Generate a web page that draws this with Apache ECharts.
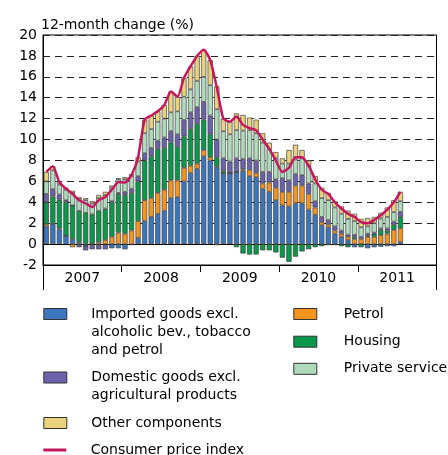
<!DOCTYPE html>
<html><head><meta charset="utf-8">
<script src="https://cdn.jsdelivr.net/npm/echarts@6/dist/echarts.min.js"></script>
<style>html,body{margin:0;padding:0;background:#fff}#c{width:448px;height:455px}</style>
</head><body><div id="c"></div>
<script>
const months = [
 '2007-01','2007-02','2007-03','2007-04','2007-05','2007-06','2007-07','2007-08','2007-09','2007-10','2007-11','2007-12',
 '2008-01','2008-02','2008-03','2008-04','2008-05','2008-06','2008-07','2008-08','2008-09','2008-10','2008-11','2008-12',
 '2009-01','2009-02','2009-03','2009-04','2009-05','2009-06','2009-07','2009-08','2009-09','2009-10','2009-11','2009-12',
 '2010-01','2010-02','2010-03','2010-04','2010-05','2010-06','2010-07','2010-08','2010-09','2010-10','2010-11','2010-12',
 '2011-01','2011-02','2011-03','2011-04','2011-05','2011-06','2011-07','2011-08','2011-09','2011-10','2011-11','2011-12'];
const yearLabels = ['2007','2008','2009','2010','2011'];

const imported = [1.7,1.9,1.4,0.8,0.5,0.2,-0.2,-0.1,-0.1,-0.1,-0.4,-0.4,
 -0.5,-0.1,0.6,2.2,2.6,2.9,3.2,4.4,4.5,6.0,6.8,7.2,
 8.4,8.0,7.4,6.8,6.8,6.9,7.0,6.5,6.4,5.3,5.0,4.2,
 3.7,3.6,3.9,3.9,3.3,2.8,1.8,1.6,1.0,0.7,0.4,-0.3,
 0.0,-0.4,-0.3,-0.25,-0.2,-0.2,0.2];
const petrol = [0.2,0.05,0.1,0.0,-0.3,-0.1,0.0,0.05,0.2,0.4,0.7,1.1,
 1.0,1.3,1.6,2.0,1.8,2.0,2.0,1.7,1.6,1.3,0.7,0.5,
 0.6,0.3,-0.1,0.0,0.0,0.0,0.15,0.6,0.4,0.5,0.9,1.2,
 1.3,1.4,1.7,1.7,1.5,0.7,0.3,0.3,0.3,0.3,0.3,0.5,
 0.5,0.7,0.7,0.85,1.0,1.35,1.3];
const housing = [2.1,2.6,2.75,3.2,3.2,3.0,3.0,2.8,3.0,3.0,3.3,3.7,
 3.7,3.6,3.8,3.8,4.0,4.2,4.0,3.6,3.2,3.0,3.5,3.8,
 2.9,2.2,0.9,0.2,0.0,-0.3,-0.9,-1.0,-1.0,-0.6,-0.6,-0.8,
 -1.3,-1.7,-1.2,-0.7,-0.5,-0.3,-0.2,-0.1,-0.1,-0.2,-0.3,0.2,
 -0.3,0.1,0.3,0.5,0.3,0.5,1.1];
const domestic = [0.8,0.7,0.5,0.2,0.0,-0.2,-0.4,-0.4,-0.4,-0.4,0.1,0.1,
 0.3,0.4,0.5,0.7,0.8,0.8,1.0,1.1,1.2,1.6,1.6,1.6,
 1.7,1.8,1.7,1.2,1.1,1.3,1.0,1.1,1.2,1.1,1.0,0.8,
 1.3,1.1,1.1,1.0,1.0,0.6,0.5,0.4,0.4,0.3,0.2,0.2,
 0.2,0.2,0.1,0.15,0.2,0.3,0.5];
const privateServices = [1.2,1.8,0.95,1.0,1.2,1.1,1.2,1.05,1.2,1.3,1.3,1.3,
 1.2,1.2,1.4,1.9,1.8,1.8,1.8,1.8,2.2,2.2,2.2,2.5,
 2.4,2.9,2.9,2.6,2.6,2.7,2.7,2.7,2.6,2.8,2.2,2.0,
 1.4,1.6,1.4,1.6,1.7,1.7,1.8,1.9,1.8,1.6,1.5,1.3,
 0.9,0.7,0.9,0.95,1.1,0.9,1.0];
const other = [0.9,0.4,0.2,0.2,0.2,0.2,0.2,0.2,0.3,0.3,0.2,0.1,
 0.2,0.2,0.4,1.3,1.3,1.0,1.3,2.0,1.4,1.8,2.2,2.4,
 2.6,2.4,2.2,1.2,1.2,1.6,1.5,1.2,1.3,0.9,0.6,0.6,
 0.5,1.3,1.4,0.8,0.5,0.7,1.0,0.7,0.6,0.7,0.8,0.7,
 0.8,0.8,0.6,0.55,0.9,1.15,0.9];
const cpi = [6.9,7.45,5.9,5.3,4.8,4.2,3.9,3.55,4.2,4.5,5.2,5.95,
 5.9,6.6,8.3,11.9,12.3,12.7,13.3,14.6,14.1,15.9,17.0,18.0,
 18.6,17.6,15.0,12.0,11.7,12.2,11.4,11.1,10.9,10.0,9.1,8.0,
 6.9,7.3,8.3,8.3,7.5,6.2,5.2,4.8,4.0,3.4,2.9,2.6,
 2.1,2.0,2.3,2.75,3.3,4.0,5.0];

const names = {
  imp: 'Imported goods excl. alcoholic bev., tobacco and petrol',
  dom: 'Domestic goods excl. agricultural products',
  oth: 'Other components',
  cpi: 'Consumer price index',
  pet: 'Petrol',
  hou: 'Housing',
  prv: 'Private services'
};
const legendLines = {
  imp: ['Imported goods excl.', 'alcoholic bev., tobacco', 'and petrol'],
  dom: ['Domestic goods excl.', 'agricultural products'],
  oth: ['Other components'],
  cpi: ['Consumer price index'],
  pet: ['Petrol'],
  hou: ['Housing'],
  prv: ['Private services']
};
const colors = {
  imp: '#3a75bd', pet: '#f5951f', hou: '#07984b', dom: '#6a62aa', prv: '#afdbbd', oth: '#e9d27e', cpi: '#c6175e'
};

const FONT = 'DejaVu Sans';
const L = 18.3;

function bar(key, data) {
  return {
    type: 'bar', name: names[key], stack: 'total', data: data,
    barWidth: '80%',
    itemStyle: { color: colors[key], borderColor: '#444', borderWidth: 0.7 },
    emphasis: { disabled: true }
  };
}
// icon aligned with the first text line: blank lines are prepended so that the
// first real line sits in the vertical middle of the (middle-aligned) block
function leg(key, left, iconCenter, padLeft, isLine) {
  const lines = legendLines[key];
  const n = lines.length;
  const text = '\n'.repeat(n - 1) + lines.join('\n');
  const H = (2 * n - 1) * L;
  return {
    show: true, data: [names[key]], left: left, top: iconCenter - H / 2, padding: 0,
    orient: 'vertical', selectedMode: false,
    itemWidth: 23, itemHeight: isLine ? 3 : 11, icon: 'rect',
    itemStyle: isLine ? { borderWidth: 0 } : { borderColor: '#333', borderWidth: 1 },
    formatter: text,
    textStyle: { fontFamily: FONT, fontSize: 14, lineHeight: L, color: '#000',
      padding: [0, 0, 0, padLeft] }
  };
}

const chart = echarts.init(document.getElementById('c'), null, { renderer: 'canvas' });
chart.setOption({
  animation: false,
  textStyle: { fontFamily: FONT },
  title: { text: '12-month change (%)', left: 41, top: 18, padding: 0,
    textStyle: { fontFamily: FONT, fontSize: 14, fontWeight: 'normal', color: '#000' } },
  grid: { left: 43, right: 11.5, top: 35, bottom: 190, show: true, borderColor: '#000', borderWidth: 1, backgroundColor: 'transparent' },
  legend: [
    leg('imp', 43.3, 314, 19.4),
    leg('dom', 43.3, 377.5, 19.4),
    leg('oth', 43.3, 423, 19.4),
    leg('cpi', 43.3, 450, 19.4, true),
    leg('pet', 293.3, 314, 22),
    leg('hou', 293.3, 341.7, 22),
    leg('prv', 293.3, 368.8, 22)
  ],
  xAxis: [
    { type: 'category', data: months, boundaryGap: true,
      axisLine: { show: true, onZero: true, lineStyle: { color: '#000', width: 1 } },
      axisTick: { show: false }, axisLabel: { show: false }, splitLine: { show: false } },
    { type: 'category', data: yearLabels, boundaryGap: true, position: 'bottom',
      axisLine: { show: true, onZero: false, lineStyle: { color: '#000', width: 1 } },
      axisTick: { show: true, interval: 0, length: 7, lineStyle: { color: '#000' } },
      axisLabel: { fontFamily: FONT, fontSize: 14, color: '#000', margin: 6, interval: 0 },
      splitLine: { show: false } }
  ],
  yAxis: {
    type: 'value', min: -2, max: 20, interval: 2,
    axisLine: { show: true, onZero: false, lineStyle: { color: '#000' } },
    axisTick: { show: false },
    axisLabel: { fontFamily: FONT, fontSize: 14, color: '#000', margin: 6 },
    splitLine: { show: true, lineStyle: { color: '#222', type: [7, 5], width: 1 } }
  },
  graphic: [
    { type: 'line', shape: { x1: 43.5, y1: 265, x2: 43.5, y2: 290 }, style: { stroke: '#000', lineWidth: 1 } },
    { type: 'line', shape: { x1: 436.5, y1: 265, x2: 436.5, y2: 290 }, style: { stroke: '#000', lineWidth: 1 } }
  ],
  series: [
    bar('imp', imported),
    bar('pet', petrol),
    bar('hou', housing),
    bar('dom', domestic),
    bar('prv', privateServices),
    bar('oth', other),
    { type: 'line', name: names.cpi, data: cpi, symbol: 'none', smooth: 0.2, z: 10,
      lineStyle: { color: colors.cpi, width: 2.5 }, itemStyle: { color: colors.cpi },
      emphasis: { disabled: true } }
  ]
});
</script></body></html>
